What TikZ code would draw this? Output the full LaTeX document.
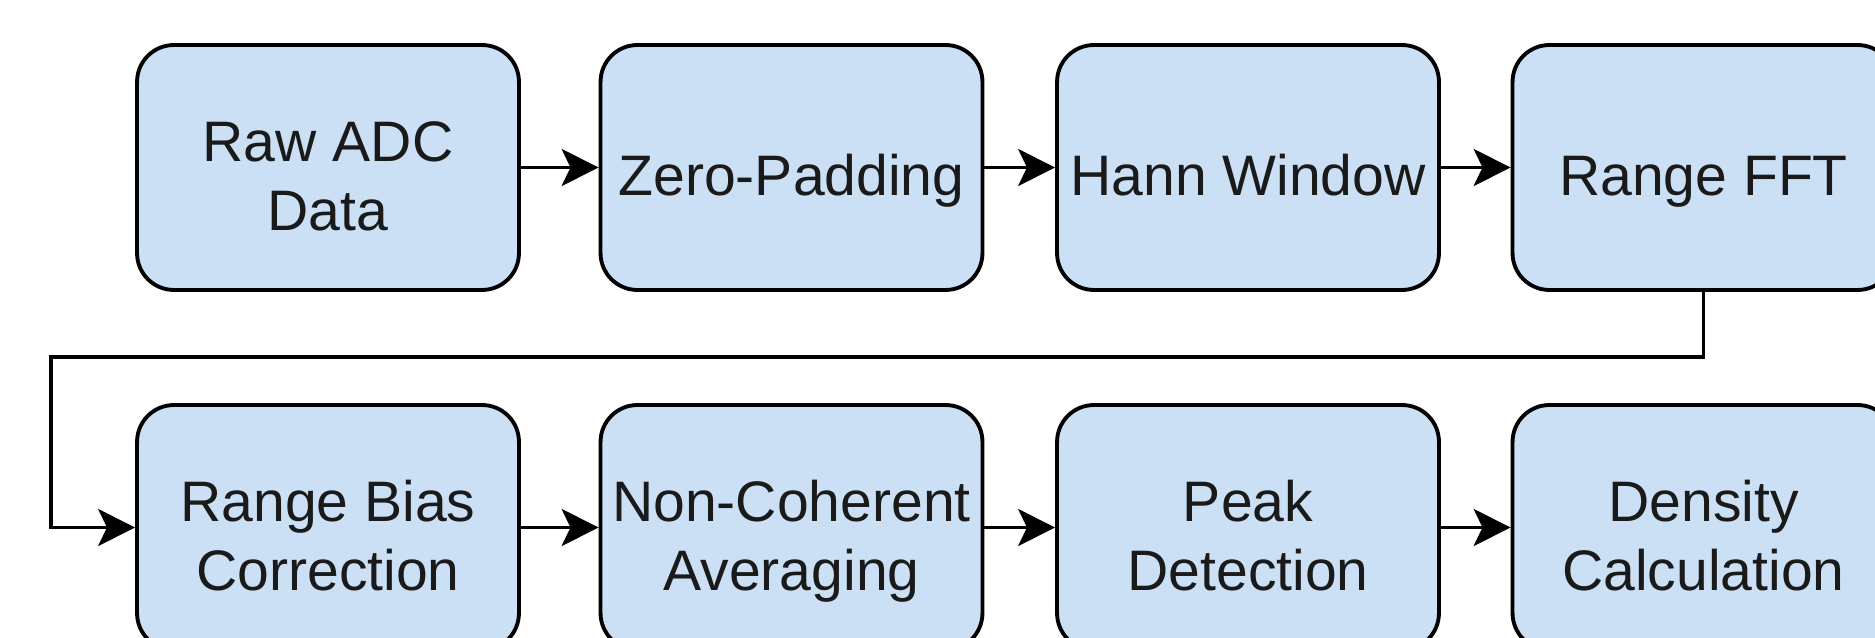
\documentclass[tikz,border=0pt]{standalone}
\usepackage{fontspec}
\setmainfont{Liberation Sans}
\usetikzlibrary{arrows.meta}
\definecolor{boxfill}{HTML}{CBE0F5}
\definecolor{ink}{HTML}{1A1A1A}
\begin{document}
\begin{tikzpicture}[x=0.02cm,y=-0.02cm,
  stage/.style={draw=black, line width=2.2pt, fill=boxfill, rounded corners=21pt,
    minimum width=7.64cm, minimum height=4.90cm, inner sep=0pt},
  caption/.style={font=\fontsize{32.5}{39.1}\selectfont, text=ink, align=center,
    anchor=base, inner sep=0pt},
  flow/.style={line width=2.2pt, -{Stealth[length=21pt, width=21pt, inset=5pt]}}]
\useasboundingbox (0,0) rectangle (1875,638);
\clip (0,0) rectangle (1875,638);

% processing stages, first row
\node[stage] (b1) at (328,167.5) {};
\node[stage] (b2) at (791.5,167.5) {};
\node[stage] (b3) at (1248,167.5) {};
\node[stage] (b4) at (1703.5,167.5) {};
% second row
\node[stage] (b5) at (328,527.5) {};
\node[stage] (b6) at (791.5,527.5) {};
\node[stage] (b7) at (1248,527.5) {};
\node[stage] (b8) at (1703.5,527.5) {};

% stage titles (base anchor sits on the last line)
\node[caption] (t1) at ([yshift=-35.7pt]b1.center) {Raw ADC\\Data};
\node[caption] (t2) at ([yshift=-16.2pt]b2.center) {Zero-Padding};
\node[caption] (t3) at ([yshift=-16.2pt]b3.center) {Hann Window};
\node[caption] (t4) at ([yshift=-16.2pt]b4.center) {Range FFT};
\node[caption] (t5) at ([yshift=-35.7pt]b5.center) {Range Bias\\Correction};
\node[caption] (t6) at ([yshift=-35.7pt]b6.center) {Non-Coherent\\Averaging};
\node[caption] (t7) at ([yshift=-35.7pt]b7.center) {Peak\\Detection};
\node[caption] (t8) at ([yshift=-35.7pt]b8.center) {Density\\Calculation};

% data flow
\draw[flow] (b1.east) -- (b2.west);
\draw[flow] (b2.east) -- (b3.west);
\draw[flow] (b3.east) -- (b4.west);
\coordinate (loopL) at (51,357);
\draw[flow] (b4.south) |- (loopL) |- (b5.west);
\draw[flow] (b5.east) -- (b6.west);
\draw[flow] (b6.east) -- (b7.west);
\draw[flow] (b7.east) -- (b8.west);
\end{tikzpicture}
\end{document}
